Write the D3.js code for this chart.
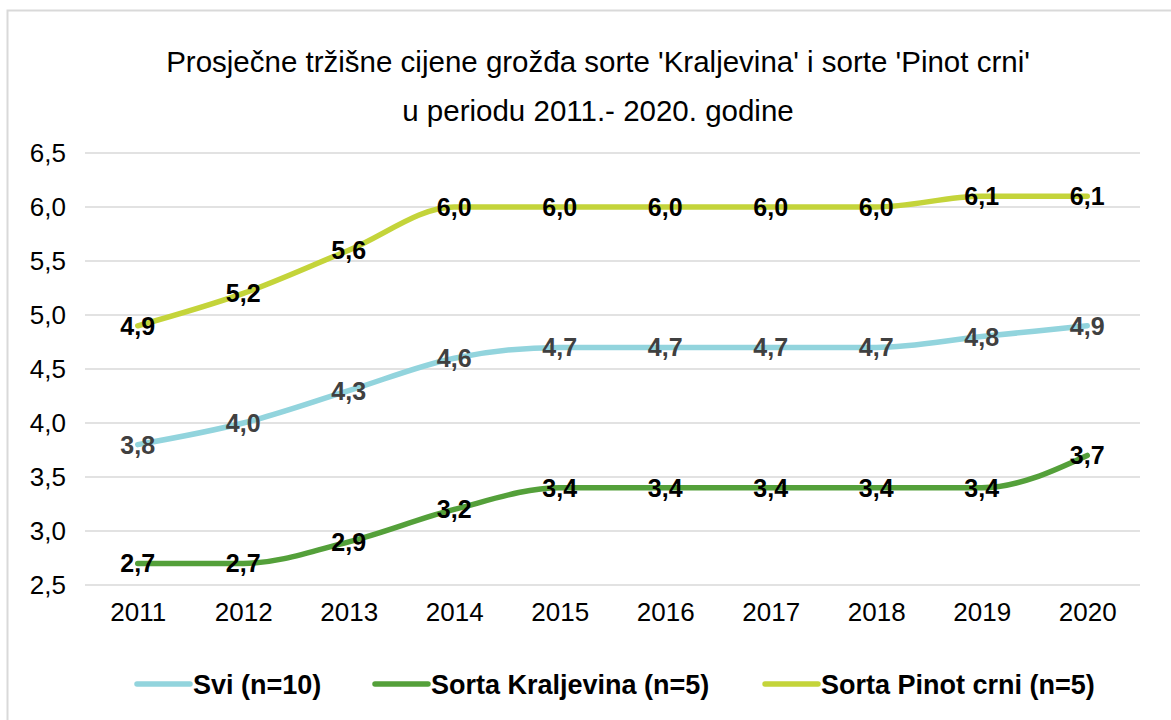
<!DOCTYPE html>
<html>
<head>
<meta charset="utf-8">
<script src="https://cdn.jsdelivr.net/npm/d3@7"></script>
<style>
  html, body { margin: 0; padding: 0; background: #fff; }
  svg { display: block; font-family: "Liberation Sans", Arial, sans-serif; }
</style>
</head>
<body>
<svg id="chart" width="1171" height="720"></svg>
<script>
// Years on the category axis
const years = ["2011", "2012", "2013", "2014", "2015", "2016", "2017", "2018", "2019", "2020"];

// Average prices per series
const sviValues        = [3.8, 4.0, 4.3, 4.6, 4.7, 4.7, 4.7, 4.7, 4.8, 4.9];
const kraljevinaValues = [2.7, 2.7, 2.9, 3.2, 3.4, 3.4, 3.4, 3.4, 3.4, 3.7];
const pinotValues      = [4.9, 5.2, 5.6, 6.0, 6.0, 6.0, 6.0, 6.0, 6.1, 6.1];

const seriesNames = ["Svi (n=10)", "Sorta Kraljevina (n=5)", "Sorta Pinot crni (n=5)"];

// Value axis ticks
const yTicks = [2.5, 3.0, 3.5, 4.0, 4.5, 5.0, 5.5, 6.0, 6.5];

const titleLines = [
  "Prosječne tržišne cijene grožđa sorte 'Kraljevina' i sorte 'Pinot crni'",
  "u periodu 2011.- 2020. godine"
];

const series = [
  { name: seriesNames[0], values: sviValues,        color: "#92D4DD", label: "#404040" },
  { name: seriesNames[1], values: kraljevinaValues, color: "#54A03A", label: "#000000" },
  { name: seriesNames[2], values: pinotValues,      color: "#C4D43A", label: "#000000" }
];

const FONT = "'Liberation Sans', Arial, sans-serif";
const svg = d3.select("#chart");
const W = 1171, H = 720;
const plot = { left: 85, right: 1140, top: 153, bottom: 585 };

// Outer chart frame
svg.append("rect")
  .attr("x", 7.5).attr("y", 10.5)
  .attr("width", W + 20).attr("height", H + 20)
  .attr("fill", "#fff").attr("stroke", "#d9d9d9").attr("stroke-width", 2);

// Title
svg.append("g").selectAll("text")
  .data(titleLines)
  .join("text")
  .attr("x", 598)
  .attr("y", (d, i) => 72 + i * 49)
  .attr("text-anchor", "middle")
  .style("font-family", FONT)
  .style("font-size", "29.5px")
  .attr("fill", "#000")
  .text(d => d);

const x = d3.scalePoint()
  .domain(years)
  .range([plot.left, plot.right])
  .padding(0.5);

const y = d3.scaleLinear()
  .domain([2.5, 6.5])
  .range([plot.bottom, plot.top]);

const fmt = v => d3.format(".1f")(v).replace(".", ",");

// Horizontal gridlines
svg.append("g")
  .selectAll("line")
  .data(yTicks)
  .join("line")
  .attr("x1", plot.left).attr("x2", plot.right)
  .attr("y1", d => y(d)).attr("y2", d => y(d))
  .attr("stroke", "#d9d9d9").attr("stroke-width", 1.5);

// Y axis labels
const yAxis = svg.append("g")
  .attr("transform", `translate(${plot.left},0)`)
  .call(d3.axisLeft(y).tickValues(yTicks).tickFormat(fmt).tickSize(0).tickPadding(19));
yAxis.select(".domain").remove();
yAxis.selectAll("text")
  .style("font-family", FONT)
  .style("font-size", "26px")
  .attr("fill", "#000");

// X axis labels
const xAxis = svg.append("g")
  .attr("transform", `translate(0,${plot.bottom})`)
  .call(d3.axisBottom(x).tickSize(0).tickPadding(17.5));
xAxis.select(".domain").remove();
xAxis.selectAll("text")
  .style("font-family", FONT)
  .style("font-size", "26px")
  .attr("fill", "#000");

// Smoothed series lines
const line = d3.line()
  .x((d, i) => x(years[i]))
  .y(d => y(d))
  .curve(d3.curveMonotoneX);

svg.append("g")
  .selectAll("path")
  .data(series)
  .join("path")
  .attr("d", d => line(d.values))
  .attr("fill", "none")
  .attr("stroke", d => d.color)
  .attr("stroke-width", 5.5)
  .attr("stroke-linecap", "round")
  .attr("stroke-linejoin", "round");

// Value labels centred on each point
series.forEach(s => {
  svg.append("g")
    .selectAll("text")
    .data(s.values)
    .join("text")
    .attr("x", (d, i) => x(years[i]))
    .attr("y", d => y(d))
    .attr("dy", "0.36em")
    .attr("text-anchor", "middle")
    .style("font-family", FONT)
    .style("font-size", "25px")
    .style("font-weight", "bold")
    .attr("fill", s.label)
    .text(d => fmt(d));
});

// Legend
const legendX = [135, 373, 763];
const legend = svg.append("g")
  .selectAll("g")
  .data(series)
  .join("g")
  .attr("transform", (d, i) => `translate(${legendX[i]},684)`);
legend.append("line")
  .attr("x1", 2).attr("x2", 55)
  .attr("y1", 0).attr("y2", 0)
  .attr("stroke", d => d.color)
  .attr("stroke-width", 5.5)
  .attr("stroke-linecap", "round");
legend.append("text")
  .attr("x", 58)
  .attr("y", 0)
  .attr("dy", "0.36em")
  .style("font-family", FONT)
  .style("font-size", "27px")
  .style("font-weight", "bold")
  .attr("fill", "#000")
  .text(d => d.name);
</script>
</body>
</html>
